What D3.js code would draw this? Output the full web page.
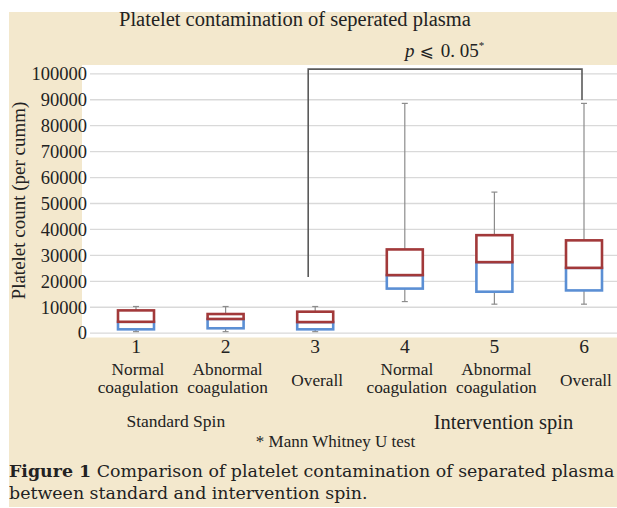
<!DOCTYPE html>
<html>
<head>
<meta charset="utf-8">
<script src="https://cdn.jsdelivr.net/npm/d3@7"></script>
<style>
  body { margin: 0; background: #fff; }
  svg text { font-family: "Liberation Serif", serif; fill: #222; }
</style>
</head>
<body>
<div id="chart1"></div>
<script>
// box plot values (per cumm)
var categories = [1, 2, 3, 4, 5, 6];
var catLines = [
  ["Normal", "coagulation"],
  ["Abnormal", "coagulation"],
  ["Overall"],
  ["Normal", "coagulation"],
  ["Abnormal", "coagulation"],
  ["Overall"]
];
var minVals    = [400,   400,   400,   12000, 11000, 11000];
var q1Vals     = [1300,  1700,  1300,  17000, 15800, 16300];
var medianVals = [4200,  5300,  4100,  22200, 27200, 25000];
var q3Vals     = [8600,  7200,  8100,  32100, 37600, 35600];
var maxVals    = [10100, 10100, 10100, 88400, 54200, 88400];
var yTicks = d3.range(0, 100001, 10000);
var groups = ["Standard Spin", "Intervention spin"];
// bracket between groups 3 and 6
var bracketCats = [3, 6];
var bracketVals = [21500, 101600, 89700];

var width = 617, height = 508;

var svg = d3.select("#chart1").append("svg")
  .attr("width", width)
  .attr("height", height);

// beige page background
svg.append("rect")
  .attr("x", 9).attr("y", 12)
  .attr("width", width - 9).attr("height", height - 13)
  .attr("fill", "#f3e8cd");

// white plot area
svg.append("rect")
  .attr("x", 82).attr("y", 65)
  .attr("width", width - 82).attr("height", 272.5)
  .attr("fill", "#fff");

var x = d3.scalePoint()
  .domain(categories)
  .range([136, 584]);

var y = d3.scaleLinear()
  .domain([0, 100000])
  .range([332.7, 73.3]);

// gridlines + y labels
var yAxis = d3.axisLeft(y)
  .tickValues(yTicks)
  .tickSize(-(width - 90))
  .tickPadding(3)
  .tickFormat(d3.format("d"));

var gy = svg.append("g")
  .attr("transform", "translate(90,0)")
  .call(yAxis);
gy.select(".domain").remove();
gy.selectAll(".tick line").attr("stroke", "#d9d9d9").attr("stroke-width", 1.3);
gy.selectAll(".tick text")
  .attr("x", -3)
  .style("font-size", "18.5px")
  .attr("dy", "0.34em");

svg.append("text")
  .attr("transform", "translate(25,200.5) rotate(-90)")
  .attr("text-anchor", "middle")
  .style("font-size", "19px")
  .text("Platelet count (per cumm)");

// title
svg.append("text")
  .attr("x", 119).attr("y", 26)
  .style("font-size", "20.5px")
  .text("Platelet contamination of seperated plasma");

// significance bracket
var bx0 = x(bracketCats[0]) - 7, bx1 = x(bracketCats[1]) - 2;
svg.append("path")
  .attr("d", d3.line()([
    [bx0, y(bracketVals[0])],
    [bx0, y(bracketVals[1])],
    [bx1, y(bracketVals[1])],
    [bx1, y(bracketVals[2])]
  ]))
  .attr("fill", "none")
  .attr("stroke", "#5a5a5a")
  .attr("stroke-width", 1.6);

var pLabel = svg.append("text")
  .attr("x", 405).attr("y", 56.5)
  .style("font-size", "19px");
pLabel.append("tspan").style("font-style", "italic").text("p");
pLabel.append("tspan").attr("dx", 5).style("font-family", "DejaVu Sans").style("font-size", "17px").text("\u2A7D");
pLabel.append("tspan").attr("dx", 7).text("0. 05");
pLabel.append("tspan").attr("dy", -8).style("font-size", "11px").text("*");

// boxes
var boxW = 36;
var box = svg.append("g").selectAll("g")
  .data(categories)
  .enter().append("g")
  .attr("transform", function(d) { return "translate(" + x(d) + ",0)"; });

// whiskers
box.append("line")
  .attr("y1", function(d, i) { return y(maxVals[i]); })
  .attr("y2", function(d, i) { return y(q3Vals[i]); })
  .attr("stroke", "#8c8c8c").attr("stroke-width", 1.2);
box.append("line")
  .attr("y1", function(d, i) { return y(q1Vals[i]); })
  .attr("y2", function(d, i) { return y(minVals[i]); })
  .attr("stroke", "#8c8c8c").attr("stroke-width", 1.2);
box.append("line")
  .attr("x1", -3).attr("x2", 3)
  .attr("y1", function(d, i) { return y(maxVals[i]); })
  .attr("y2", function(d, i) { return y(maxVals[i]); })
  .attr("stroke", "#8c8c8c").attr("stroke-width", 1.2);
box.append("line")
  .attr("x1", -3).attr("x2", 3)
  .attr("y1", function(d, i) { return y(minVals[i]); })
  .attr("y2", function(d, i) { return y(minVals[i]); })
  .attr("stroke", "#8c8c8c").attr("stroke-width", 1.2);

// lower box (Q1 - median)
box.append("rect")
  .attr("x", -boxW / 2).attr("width", boxW)
  .attr("y", function(d, i) { return y(medianVals[i]); })
  .attr("height", function(d, i) { return y(q1Vals[i]) - y(medianVals[i]); })
  .attr("fill", "#fff")
  .attr("stroke", "#5b8fd4").attr("stroke-width", 2.6);

// upper box (median - Q3)
box.append("rect")
  .attr("x", -boxW / 2).attr("width", boxW)
  .attr("y", function(d, i) { return y(q3Vals[i]); })
  .attr("height", function(d, i) { return y(medianVals[i]) - y(q3Vals[i]); })
  .attr("fill", "#fff")
  .attr("stroke", "#a2393a").attr("stroke-width", 2.6);

// category numbers and names
var cat = svg.append("g").selectAll("g")
  .data(categories)
  .enter().append("g")
  .attr("transform", function(d) { return "translate(" + x(d) + ",0)"; })
  .attr("text-anchor", "middle");

cat.append("text")
  .attr("y", 353)
  .style("font-size", "19.5px")
  .text(function(d) { return d; });

cat.each(function(d, i) {
  var lines = catLines[i];
  var g = d3.select(this);
  var t = g.append("text")
    .attr("x", 2)
    .style("font-size", "17.3px");
  if (lines.length == 1) {
    t.attr("y", 385.5).text(lines[0]);
  } else {
    t.append("tspan").attr("x", 2).attr("y", 375).text(lines[0]);
    t.append("tspan").attr("x", 2).attr("y", 393).text(lines[1]);
  }
});

// group labels
svg.append("text")
  .attr("x", (x(1) + x(2)) / 2 - 5).attr("y", 427.3)
  .attr("text-anchor", "middle")
  .style("font-size", "17.5px")
  .text(groups[0]);
svg.append("text")
  .attr("x", x(5) + 9).attr("y", 428.5)
  .attr("text-anchor", "middle")
  .style("font-size", "20.5px")
  .text(groups[1]);

svg.append("text")
  .attr("x", 335.5).attr("y", 446.7)
  .attr("text-anchor", "middle")
  .style("font-size", "17px")
  .text("* Mann Whitney U test");

// figure caption
var cap = svg.append("text")
  .attr("x", 9).attr("y", 476.7)
  .style("font-family", "DejaVu Serif")
  .style("font-size", "17.4px");
cap.append("tspan").style("font-weight", "bold").text("Figure 1");
cap.append("tspan").text(" Comparison of platelet contamination of separated plasma");
svg.append("text")
  .attr("x", 9).attr("y", 499.3)
  .style("font-family", "DejaVu Serif")
  .style("font-size", "17.4px")
  .text("between standard and intervention spin.");
</script>
</body>
</html>
